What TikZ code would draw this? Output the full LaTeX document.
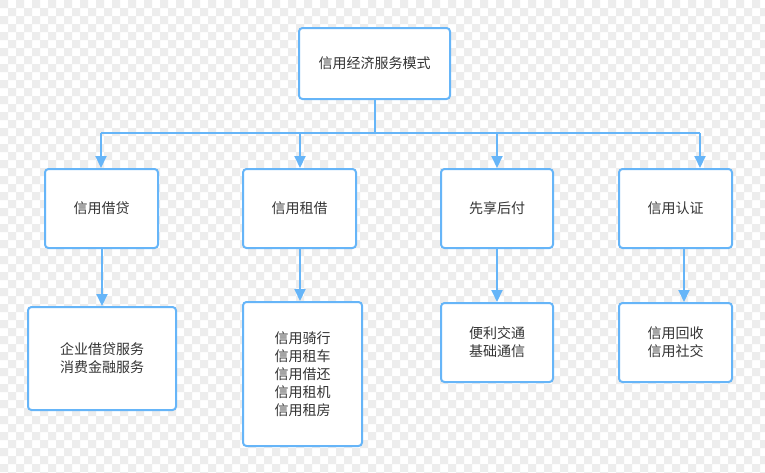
\documentclass[tikz,border=0pt]{standalone}
\usepackage{fontspec}
\setmainfont{Noto Sans CJK SC}
\usetikzlibrary{arrows.meta}
\definecolor{lineblue}{HTML}{66B5F8}
\definecolor{txt}{HTML}{333333}
\definecolor{chk}{HTML}{EDEDED}
\begin{document}
\begin{tikzpicture}[x=1pt,y=-1pt,
  box/.style={draw=lineblue,line width=2pt,rounded corners=3.5pt,fill=white,
    text=txt,font=\fontsize{14}{18}\selectfont,align=center,inner sep=0pt},
  conn/.style={draw=lineblue,line width=2pt},
  arr/.style={conn,-{Triangle[length=12pt,width=11pt]}}]
\useasboundingbox (0,0) rectangle (765,472);
\fill[white] (0,0) rectangle (765,472);
\fill[chk] \foreach \i in {0,2,...,94}{\foreach \j in {0,2,...,58}{
   (8*\i,8*\j) rectangle ++(8,8) (8*\i+8,8*\j+8) rectangle ++(8,8)}};
% nodes
\node[box,minimum width=151pt,minimum height=71pt] (top) at (374.5,63.5) {信用经济服务模式};
\node[box,minimum width=113pt,minimum height=79pt] (b1) at (101.5,208.5) {信用借贷};
\node[box,minimum width=113pt,minimum height=79pt] (b2) at (299.5,208.5) {信用租借};
\node[box,minimum width=112pt,minimum height=79pt] (b3) at (497,208.5) {先享后付};
\node[box,minimum width=113pt,minimum height=79pt] (b4) at (675.5,208.5) {信用认证};
\node[box,minimum width=148pt,minimum height=103pt] (c1) at (102,358.5) {企业借贷服务\\消费金融服务};
\node[box,minimum width=119pt,minimum height=144pt] (c2) at (302.5,374) {信用骑行\\信用租车\\信用借还\\信用租机\\信用租房};
\node[box,minimum width=112pt,minimum height=79pt] (c3) at (497,342.5) {便利交通\\基础通信};
\node[box,minimum width=113pt,minimum height=79pt] (c4) at (675.5,342.5) {信用回收\\信用社交};
% bus
\coordinate (jt) at (374.5,133);
\coordinate (j1) at (101,133);
\coordinate (j2) at (300,133);
\coordinate (j3) at (497,133);
\coordinate (j4) at (700,133);
\draw[conn] (top.south) -- (jt);
\draw[conn] (j1) -- (j4);
\draw[arr] (j1) -- (j1 |- b1.north);
\draw[arr] (j2) -- (j2 |- b2.north);
\draw[arr] (j3) -- (j3 |- b3.north);
\draw[arr] (j4) -- (j4 |- b4.north);
% lower arrows
\coordinate (k1) at (102,0);
\coordinate (k2) at (300,0);
\coordinate (k3) at (497,0);
\coordinate (k4) at (684,0);
\draw[arr] (k1 |- b1.south) -- (k1 |- c1.north);
\draw[arr] (k2 |- b2.south) -- (k2 |- c2.north);
\draw[arr] (k3 |- b3.south) -- (k3 |- c3.north);
\draw[arr] (k4 |- b4.south) -- (k4 |- c4.north);
\end{tikzpicture}
\end{document}
